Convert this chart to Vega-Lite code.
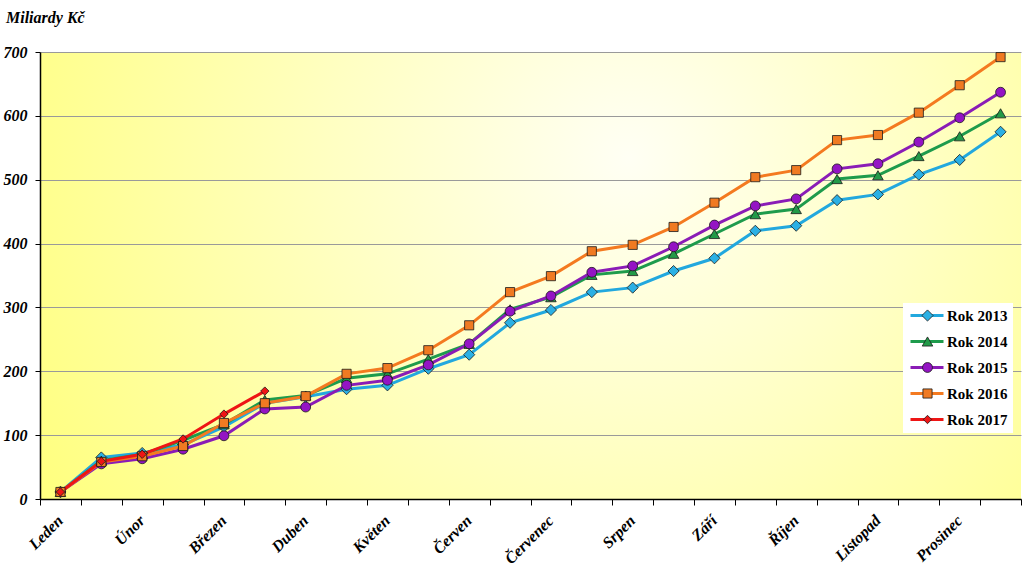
{
  "$schema": "https://vega.github.io/schema/vega-lite/v6.json",
  "width": 981,
  "height": 447,
  "autosize": {"type": "none"},
  "padding": {"left": 40, "top": 52, "right": 3, "bottom": 67},
  "background": "white",
  "config": {
    "view": {
      "stroke": null,
      "fill": {
        "gradient": "radial",
        "x1": 0.6, "y1": 0.38, "r1": 0,
        "x2": 0.6, "y2": 0.38, "r2": 0.68,
        "stops": [
          {"offset": 0, "color": "#FFFFF4"},
          {"offset": 0.45, "color": "#FFFFC2"},
          {"offset": 1, "color": "#FFFF80"}
        ]
      }
    }
  },
  "title": {
    "text": "Miliardy Kč",
    "anchor": "start",
    "frame": "group",
    "font": "Liberation Serif",
    "fontSize": 16,
    "fontWeight": "bold",
    "fontStyle": "italic",
    "color": "#000000",
    "baseline": "alphabetic",
    "offset": 5,
    "dx": -34
  },
  "data": {
    "values": [
      {"year": "Rok 2013", "idx": 0, "value": 11}, {"year": "Rok 2013", "idx": 1, "value": 65}, {"year": "Rok 2013", "idx": 2, "value": 72}, {"year": "Rok 2013", "idx": 3, "value": 85}, {"year": "Rok 2013", "idx": 4, "value": 113}, {"year": "Rok 2013", "idx": 5, "value": 150}, {"year": "Rok 2013", "idx": 6, "value": 160}, {"year": "Rok 2013", "idx": 7, "value": 172}, {"year": "Rok 2013", "idx": 8, "value": 178}, {"year": "Rok 2013", "idx": 9, "value": 204}, {"year": "Rok 2013", "idx": 10, "value": 226}, {"year": "Rok 2013", "idx": 11, "value": 276}, {"year": "Rok 2013", "idx": 12, "value": 296}, {"year": "Rok 2013", "idx": 13, "value": 324}, {"year": "Rok 2013", "idx": 14, "value": 331}, {"year": "Rok 2013", "idx": 15, "value": 357}, {"year": "Rok 2013", "idx": 16, "value": 377}, {"year": "Rok 2013", "idx": 17, "value": 420}, {"year": "Rok 2013", "idx": 18, "value": 428}, {"year": "Rok 2013", "idx": 19, "value": 468}, {"year": "Rok 2013", "idx": 20, "value": 477}, {"year": "Rok 2013", "idx": 21, "value": 508}, {"year": "Rok 2013", "idx": 22, "value": 531}, {"year": "Rok 2013", "idx": 23, "value": 575},
      {"year": "Rok 2014", "idx": 0, "value": 11}, {"year": "Rok 2014", "idx": 1, "value": 60}, {"year": "Rok 2014", "idx": 2, "value": 70}, {"year": "Rok 2014", "idx": 3, "value": 92}, {"year": "Rok 2014", "idx": 4, "value": 117}, {"year": "Rok 2014", "idx": 5, "value": 155}, {"year": "Rok 2014", "idx": 6, "value": 162}, {"year": "Rok 2014", "idx": 7, "value": 189}, {"year": "Rok 2014", "idx": 8, "value": 196}, {"year": "Rok 2014", "idx": 9, "value": 219}, {"year": "Rok 2014", "idx": 10, "value": 243}, {"year": "Rok 2014", "idx": 11, "value": 297}, {"year": "Rok 2014", "idx": 12, "value": 316}, {"year": "Rok 2014", "idx": 13, "value": 351}, {"year": "Rok 2014", "idx": 14, "value": 357}, {"year": "Rok 2014", "idx": 15, "value": 384}, {"year": "Rok 2014", "idx": 16, "value": 415}, {"year": "Rok 2014", "idx": 17, "value": 446}, {"year": "Rok 2014", "idx": 18, "value": 454}, {"year": "Rok 2014", "idx": 19, "value": 501}, {"year": "Rok 2014", "idx": 20, "value": 507}, {"year": "Rok 2014", "idx": 21, "value": 537}, {"year": "Rok 2014", "idx": 22, "value": 568}, {"year": "Rok 2014", "idx": 23, "value": 604},
      {"year": "Rok 2015", "idx": 0, "value": 11}, {"year": "Rok 2015", "idx": 1, "value": 55}, {"year": "Rok 2015", "idx": 2, "value": 63}, {"year": "Rok 2015", "idx": 3, "value": 78}, {"year": "Rok 2015", "idx": 4, "value": 99}, {"year": "Rok 2015", "idx": 5, "value": 141}, {"year": "Rok 2015", "idx": 6, "value": 144}, {"year": "Rok 2015", "idx": 7, "value": 178}, {"year": "Rok 2015", "idx": 8, "value": 186}, {"year": "Rok 2015", "idx": 9, "value": 210}, {"year": "Rok 2015", "idx": 10, "value": 243}, {"year": "Rok 2015", "idx": 11, "value": 294}, {"year": "Rok 2015", "idx": 12, "value": 318}, {"year": "Rok 2015", "idx": 13, "value": 355}, {"year": "Rok 2015", "idx": 14, "value": 365}, {"year": "Rok 2015", "idx": 15, "value": 395}, {"year": "Rok 2015", "idx": 16, "value": 429}, {"year": "Rok 2015", "idx": 17, "value": 459}, {"year": "Rok 2015", "idx": 18, "value": 470}, {"year": "Rok 2015", "idx": 19, "value": 517}, {"year": "Rok 2015", "idx": 20, "value": 525}, {"year": "Rok 2015", "idx": 21, "value": 559}, {"year": "Rok 2015", "idx": 22, "value": 597}, {"year": "Rok 2015", "idx": 23, "value": 637},
      {"year": "Rok 2016", "idx": 0, "value": 11}, {"year": "Rok 2016", "idx": 1, "value": 58}, {"year": "Rok 2016", "idx": 2, "value": 67}, {"year": "Rok 2016", "idx": 3, "value": 83}, {"year": "Rok 2016", "idx": 4, "value": 119}, {"year": "Rok 2016", "idx": 5, "value": 150}, {"year": "Rok 2016", "idx": 6, "value": 161}, {"year": "Rok 2016", "idx": 7, "value": 196}, {"year": "Rok 2016", "idx": 8, "value": 205}, {"year": "Rok 2016", "idx": 9, "value": 233}, {"year": "Rok 2016", "idx": 10, "value": 272}, {"year": "Rok 2016", "idx": 11, "value": 324}, {"year": "Rok 2016", "idx": 12, "value": 349}, {"year": "Rok 2016", "idx": 13, "value": 388}, {"year": "Rok 2016", "idx": 14, "value": 398}, {"year": "Rok 2016", "idx": 15, "value": 426}, {"year": "Rok 2016", "idx": 16, "value": 464}, {"year": "Rok 2016", "idx": 17, "value": 504}, {"year": "Rok 2016", "idx": 18, "value": 515}, {"year": "Rok 2016", "idx": 19, "value": 562}, {"year": "Rok 2016", "idx": 20, "value": 570}, {"year": "Rok 2016", "idx": 21, "value": 605}, {"year": "Rok 2016", "idx": 22, "value": 648}, {"year": "Rok 2016", "idx": 23, "value": 692},
      {"year": "Rok 2017", "idx": 0, "value": 11}, {"year": "Rok 2017", "idx": 1, "value": 59}, {"year": "Rok 2017", "idx": 2, "value": 70}, {"year": "Rok 2017", "idx": 3, "value": 94}, {"year": "Rok 2017", "idx": 4, "value": 133}, {"year": "Rok 2017", "idx": 5, "value": 169}
    ]
  },
  "layer": [
    {
      "mark": {"type": "line", "strokeWidth": 3},
      "encoding": {
        "x": {
          "field": "idx", "type": "quantitative",
          "scale": {"domain": [-0.5, 23.5], "nice": false, "zero": false},
          "axis": {
            "orient": "bottom",
            "values": [-0.5, 0.5, 1.5, 2.5, 3.5, 4.5, 5.5, 6.5, 7.5, 8.5, 9.5, 10.5, 11.5, 12.5, 13.5, 14.5, 15.5, 16.5, 17.5, 18.5, 19.5, 20.5, 21.5, 22.5, 23.5],
            "labels": false, "grid": false, "title": null,
            "ticks": true, "tickSize": 6, "tickColor": "#000000", "tickWidth": 1,
            "domain": true, "domainColor": "#000000", "domainWidth": 1.5
          }
        },
        "y": {
          "field": "value", "type": "quantitative",
          "scale": {"domain": [0, 700], "nice": false},
          "axis": {
            "values": [0, 50, 100, 150, 200, 250, 300, 350, 400, 450, 500, 550, 600, 650, 700],
            "title": null,
            "grid": true, "gridColor": "#9A9A9A", "gridWidth": 1,
            "domain": true, "domainColor": "#000000", "domainWidth": 1.5,
            "ticks": true, "tickSize": 5, "tickColor": "#000000",
            "labelFont": "Liberation Serif", "labelFontSize": 16, "labelFontWeight": "bold", "labelFontStyle": "italic",
            "labelColor": "#000000", "labelPadding": 8
          }
        },
        "color": {
          "field": "year", "type": "nominal",
          "scale": {
            "domain": ["Rok 2013", "Rok 2014", "Rok 2015", "Rok 2016", "Rok 2017"],
            "range": ["#22A8DE", "#1E9B4C", "#8A1CB6", "#F47A20", "#EE1515"]
          },
          "legend": {
            "orient": "none", "legendX": 863, "legendY": 251,
            "title": null, "fillColor": "#FFFFFF", "padding": 5,
            "symbolType": "M-1,0H5.6", "symbolSize": 100, "symbolStrokeWidth": 3,
            "labelFont": "Liberation Serif", "labelFontSize": 15, "labelFontWeight": "bold",
            "labelColor": "#000000", "labelOffset": 24, "rowPadding": 10
          }
        }
      }
    },
    {
      "mark": {"type": "point", "filled": true, "stroke": "#1A1A1A", "strokeWidth": 0.8, "opacity": 1},
      "encoding": {
        "x": {
          "field": "idx", "type": "quantitative",
          "axis": {
            "orient": "bottom",
            "values": [0, 2, 4, 6, 8, 10, 12, 14, 16, 18, 20, 22],
            "labelExpr": "['Leden','Únor','Březen','Duben','Květen','Červen','Červenec','Srpen','Září','Říjen','Listopad','Prosinec'][datum.value/2]",
            "ticks": false, "tickSize": 0, "domain": false, "grid": false, "title": null,
            "labelAngle": -45, "labelAlign": "right", "labelBaseline": "top",
            "labelPadding": 13, "labelOffset": -6, "labelOverlap": false,
            "labelFont": "Liberation Serif", "labelFontSize": 16, "labelFontWeight": "bold", "labelFontStyle": "italic",
            "labelColor": "#000000"
          }
        },
        "y": {"field": "value", "type": "quantitative"},
        "color": {
          "field": "year", "type": "nominal",
          "scale": {
            "domain": ["Rok 2013", "Rok 2014", "Rok 2015", "Rok 2016", "Rok 2017"],
            "range": ["#2BB0E4", "#229A48", "#9414C4", "#F07A22", "#EE1515"]
          },
          "legend": {
            "orient": "none", "legendX": 875, "legendY": 251,
            "title": null, "fillColor": null, "padding": 5,
            "symbolSize": 60, "symbolStrokeColor": "#1A1A1A", "symbolStrokeWidth": 0.8,
            "labelFont": "Liberation Serif", "labelFontSize": 15, "labelFontWeight": "bold",
            "labelExpr": "''", "labelOffset": 24, "rowPadding": 10
          }
        },
        "shape": {
          "field": "year", "type": "nominal",
          "scale": {
            "domain": ["Rok 2013", "Rok 2014", "Rok 2015", "Rok 2016", "Rok 2017"],
            "range": ["diamond", "triangle-up", "circle", "square", "diamond"]
          },
          "legend": {
            "orient": "none", "legendX": 875, "legendY": 251,
            "title": null, "fillColor": null, "padding": 5,
            "symbolSize": 60, "symbolStrokeColor": "#1A1A1A", "symbolStrokeWidth": 0.8,
            "labelFont": "Liberation Serif", "labelFontSize": 15, "labelFontWeight": "bold",
            "labelExpr": "''", "labelOffset": 24, "rowPadding": 10
          }
        },
        "size": {
          "field": "year", "type": "ordinal",
          "scale": {
            "domain": ["Rok 2013", "Rok 2014", "Rok 2015", "Rok 2016", "Rok 2017"],
            "range": [125, 70, 110, 70, 110]
          },
          "legend": null
        }
      }
    }
  ],
  "resolve": {
    "scale": {"color": "independent", "shape": "independent", "size": "independent"},
    "axis": {"x": "independent"},
    "legend": {"color": "independent", "shape": "independent", "size": "independent"}
  }
}
